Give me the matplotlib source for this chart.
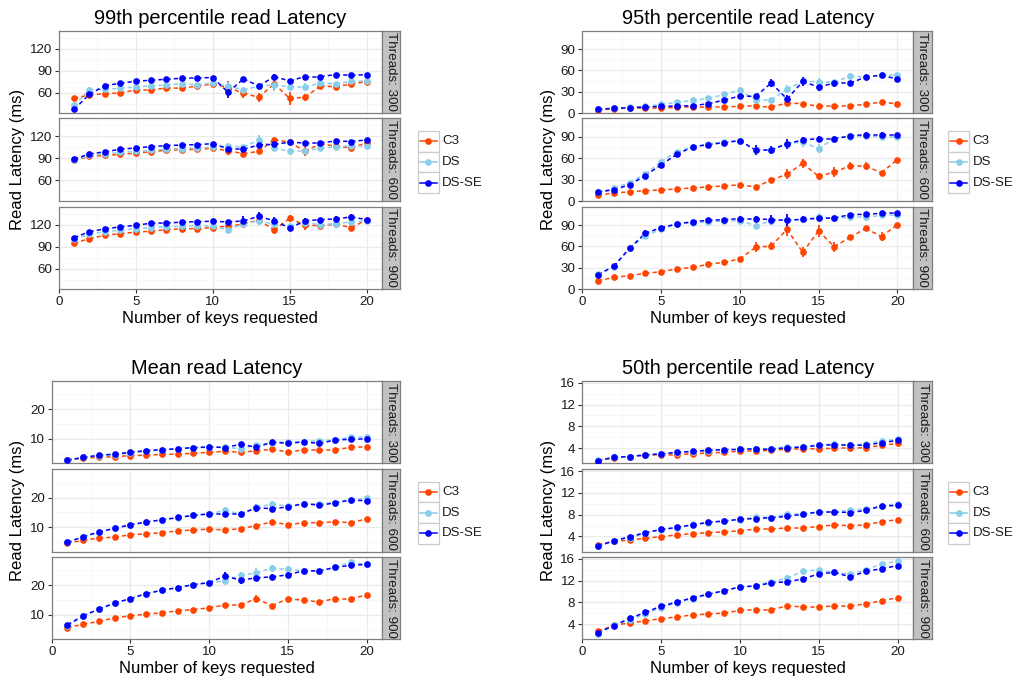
import matplotlib
matplotlib.use("Agg")
import matplotlib.pyplot as plt
from matplotlib.patches import Rectangle
from matplotlib.lines import Line2D
from matplotlib.collections import LineCollection

plt.rcParams['font.family'] = ['Liberation Sans', 'DejaVu Sans']

# figure size in pixels
W, H = 1018, 681

keys = list(range(1, 21))
threads = ['300', '600', '900']
series_names = ['C3', 'DS', 'DS-SE']
colors = {'C3': '#FF4500', 'DS': '#87CEEB', 'DS-SE': '#0000FF'}

# ---- 99th percentile ----
p99_c3_300 = [52.2, 56.8, 58.6, 59.5, 63.7, 63.7, 66.4, 66.0, 69.2, 71.5, 67.3, 59.0, 53.6, 72.0, 52.0, 53.6, 69.0, 68.0, 72.0, 75.0]
p99_c3_300_err = [2, 2, 2, 2, 2, 2, 2, 2, 2, 2, 8, 7, 6, 10, 9, 5, 3, 3, 4, 5]
p99_ds_300 = [42.6, 63.7, 64.6, 66.0, 67.8, 69.2, 70.5, 72.0, 71.0, 72.8, 69.0, 63.7, 69.0, 70.5, 68.2, 68.2, 72.8, 72.0, 75.6, 76.0]
p99_ds_300_err = [2, 4, 2, 2, 2, 2, 2, 2, 2, 2, 5, 3, 4, 8, 3, 5, 3, 3, 4, 3]
p99_dsse_300 = [37.1, 57.7, 69.6, 72.8, 75.6, 77.0, 78.3, 79.7, 80.2, 80.6, 60.5, 78.8, 69.2, 82.0, 76.0, 82.0, 82.0, 84.7, 83.8, 84.7]
p99_dsse_300_err = [1.5, 1.5, 1.5, 1.5, 1.5, 1.5, 1.5, 1.5, 1.5, 1.5, 8, 3, 4, 4, 3, 1.5, 1.5, 1.5, 2, 1.5]
p99_c3_600 = [87.3, 92.7, 94.0, 95.5, 97.3, 99.0, 101.0, 102.0, 102.4, 103.7, 100.5, 96.4, 99.6, 115.6, 112.0, 99.6, 110.0, 106.5, 104.6, 111.0]
p99_c3_600_err = [1.5, 1.5, 1.5, 1.5, 1.5, 1.5, 1.5, 1.5, 1.5, 1.5, 6, 5, 2, 4, 3, 6, 2, 2, 2, 2]
p99_ds_600 = [87.3, 94.0, 96.0, 98.2, 99.6, 101.0, 102.8, 103.3, 104.2, 105.0, 106.5, 105.6, 114.7, 104.2, 99.6, 99.6, 104.2, 105.6, 107.4, 106.5]
p99_ds_600_err = [2, 2, 2, 2, 2, 2, 2, 2, 2, 2, 4, 3, 7, 4, 3, 5, 3, 3, 3, 3]
p99_dsse_600 = [89.0, 96.0, 99.0, 102.4, 104.2, 106.0, 107.4, 108.3, 108.8, 110.0, 103.3, 102.4, 108.3, 109.2, 112.0, 111.0, 111.0, 113.8, 113.0, 115.2]
p99_dsse_600_err = [1.5, 1.5, 1.5, 1.5, 1.5, 1.5, 1.5, 1.5, 1.5, 1.5, 4, 3, 3, 3, 3, 3, 2, 2, 2, 2]
p99_c3_900 = [94.8, 101.2, 105.8, 108.1, 110.0, 111.3, 113.6, 114.5, 115.0, 116.3, 118.2, 121.0, 126.9, 112.7, 129.2, 119.5, 119.0, 121.0, 116.3, 126.9]
p99_c3_900_err = [1.5, 1.5, 1.5, 1.5, 1.5, 1.5, 1.5, 1.5, 1.5, 1.5, 2, 4, 5, 5, 5, 7, 3, 3, 5, 2]
p99_ds_900 = [100.3, 107.2, 110.8, 112.7, 115.0, 116.3, 117.3, 118.2, 119.0, 119.0, 112.7, 121.8, 125.5, 121.0, 118.2, 123.2, 120.0, 121.8, 124.1, 125.5]
p99_ds_900_err = [2, 2, 2, 2, 2, 2, 2, 2, 2, 2, 4, 3, 6, 3, 3, 5, 3, 3, 3, 2]
p99_dsse_900 = [102.6, 110.8, 114.5, 117.3, 119.5, 122.3, 122.7, 123.7, 124.6, 125.0, 124.1, 125.5, 131.9, 125.5, 115.9, 125.5, 127.3, 128.2, 131.0, 127.3]
p99_dsse_900_err = [1.5, 1.5, 1.5, 1.5, 1.5, 1.5, 1.5, 1.5, 1.5, 1.5, 2, 7, 6, 6, 3, 4, 2, 4, 4, 1.5]

# ---- 95th percentile ----
p95_c3_300 = [3.8, 6.0, 7.0, 7.0, 7.0, 8.0, 8.0, 8.4, 8.4, 9.4, 9.4, 8.4, 14.0, 13.1, 9.4, 9.4, 10.3, 12.2, 15.5, 12.7]
p95_c3_300_err = [1, 1, 1, 1, 1, 1, 1, 1, 1, 1, 1, 1, 2, 2, 1, 1, 1, 1, 2, 1]
p95_ds_300 = [5.6, 6.6, 8.0, 9.4, 12.2, 15.0, 17.8, 20.6, 26.3, 31.9, 18.8, 18.8, 33.8, 44.5, 44.0, 43.0, 52.0, 50.6, 53.4, 53.4]
p95_ds_300_err = [1, 1, 1, 1, 1.5, 1.5, 1.5, 1.5, 2, 2, 4, 3, 5, 6, 6, 4, 4, 3, 3, 3]
p95_dsse_300 = [5.2, 6.6, 7.5, 8.4, 9.4, 9.8, 10.3, 13.1, 18.3, 23.9, 23.4, 42.2, 19.7, 44.5, 36.6, 42.2, 42.2, 50.6, 53.4, 47.8]
p95_dsse_300_err = [1, 1, 1, 1, 1, 1, 1, 1, 1.5, 2, 4, 6, 5, 6, 6, 5, 2, 3, 2, 2]
p95_c3_600 = [8.0, 11.3, 12.7, 14.5, 15.5, 16.9, 18.3, 19.7, 21.1, 22.5, 19.7, 29.1, 37.5, 52.5, 34.7, 40.3, 49.2, 48.8, 39.4, 57.7]
p95_c3_600_err = [1, 1, 1, 1, 1, 1, 1, 1, 1, 1, 1.5, 4, 7, 6, 5, 7, 5, 6, 2, 3]
p95_ds_600 = [12.2, 17.8, 25.8, 37.5, 54.9, 68.9, 75.9, 79.7, 82.5, 84.4, 70.8, 71.3, 80.2, 82.5, 73.1, 87.2, 90.0, 90.9, 90.0, 90.0]
p95_ds_600_err = [2, 2, 2, 2, 2, 3, 3, 3, 3, 3, 6, 4, 6, 7, 6, 4, 4, 5, 3, 4]
p95_dsse_600 = [12.2, 15.9, 22.5, 35.6, 50.6, 65.2, 75.5, 78.8, 81.6, 84.4, 71.3, 71.3, 80.2, 85.3, 87.2, 87.2, 90.9, 92.8, 92.8, 92.8]
p95_dsse_600_err = [1.5, 1.5, 1.5, 1.5, 1.5, 2, 3, 2, 3, 2, 7, 5, 7, 4, 3, 4, 2, 3, 3, 2]
p95_c3_900 = [11.7, 16.4, 18.8, 22.0, 24.4, 28.2, 30.5, 34.8, 37.6, 42.3, 58.7, 60.6, 84.1, 51.7, 81.8, 59.7, 72.8, 85.5, 73.8, 90.7]
p95_c3_900_err = [1, 1, 1, 1, 1, 1, 1, 1, 1, 1.5, 7, 5, 9, 7, 8, 7, 4, 4, 6, 3]
p95_ds_900 = [21.1, 31.5, 57.8, 74.7, 84.1, 91.6, 93.5, 94.9, 95.9, 96.3, 89.3, 96.3, 97.3, 98.2, 101.0, 99.6, 101.0, 101.0, 103.9, 103.9]
p95_ds_900_err = [2, 2, 2, 4, 4, 4, 4, 4, 4, 4, 4, 4, 6, 4, 6, 4, 5, 5, 4, 3]
p95_dsse_900 = [20.2, 32.0, 57.3, 78.5, 86.5, 91.6, 94.9, 96.8, 97.7, 99.2, 99.2, 97.7, 96.8, 98.2, 99.6, 100.1, 104.8, 105.3, 106.7, 106.7]
p95_dsse_900_err = [2, 2, 2, 4, 3, 3, 3, 3, 3, 3, 4, 7, 9, 4, 3, 3, 3, 3, 3, 2]

# ---- mean ----
mean_c3_300 = [3.0, 3.5, 3.8, 4.0, 4.4, 4.5, 4.8, 4.9, 5.2, 5.5, 5.8, 5.5, 6.0, 6.5, 5.6, 6.3, 6.3, 6.3, 7.2, 7.2]
mean_c3_300_err = [0.3, 0.3, 0.3, 0.3, 0.3, 0.3, 0.3, 0.3, 0.3, 0.3, 0.3, 0.3, 0.4, 0.4, 0.3, 0.3, 0.3, 0.3, 0.3, 0.3]
mean_ds_300 = [2.9, 3.8, 4.3, 4.7, 5.2, 5.8, 6.3, 6.7, 7.0, 7.2, 7.2, 6.7, 8.0, 8.8, 9.0, 9.1, 9.4, 9.7, 10.6, 10.6]
mean_ds_300_err = [0.3, 0.3, 0.3, 0.3, 0.3, 0.3, 0.3, 0.3, 0.3, 0.3, 0.4, 0.5, 0.5, 0.4, 0.4, 0.3, 0.4, 0.3, 0.4, 0.4]
mean_dsse_300 = [2.8, 3.8, 4.5, 4.9, 5.5, 6.1, 6.4, 6.7, 7.1, 7.3, 7.1, 8.2, 7.2, 8.9, 8.5, 9.0, 8.5, 9.6, 9.9, 9.9]
mean_dsse_300_err = [0.3, 0.3, 0.3, 0.3, 0.3, 0.3, 0.3, 0.3, 0.3, 0.3, 0.4, 0.7, 0.6, 0.4, 0.3, 0.3, 0.3, 0.3, 0.3, 0.3]
mean_c3_600 = [4.7, 5.6, 6.4, 6.7, 7.5, 7.8, 8.2, 8.8, 9.1, 9.4, 9.1, 9.5, 10.6, 11.8, 10.9, 11.5, 11.6, 11.8, 11.6, 12.8]
mean_c3_600_err = [0.3, 0.3, 0.3, 0.3, 0.3, 0.3, 0.3, 0.3, 0.3, 0.3, 0.3, 0.3, 0.4, 0.4, 0.4, 0.4, 0.3, 0.3, 0.3, 0.4]
mean_ds_600 = [4.9, 6.8, 8.3, 9.7, 10.8, 11.8, 12.5, 13.2, 14.1, 14.5, 15.7, 14.5, 16.8, 17.7, 17.2, 17.7, 18.0, 18.3, 19.3, 19.7]
mean_ds_600_err = [0.4, 0.4, 0.4, 0.4, 0.4, 0.4, 0.4, 0.4, 0.4, 0.4, 1.0, 0.5, 0.8, 1.0, 0.7, 0.6, 0.5, 0.5, 0.5, 0.6]
mean_dsse_600 = [4.9, 6.9, 8.4, 9.7, 10.8, 11.8, 12.5, 13.3, 14.0, 14.5, 14.5, 14.5, 16.5, 16.3, 16.8, 18.0, 17.4, 18.2, 19.2, 18.9]
mean_dsse_600_err = [0.4, 0.4, 0.4, 0.4, 0.4, 0.4, 0.4, 0.4, 0.4, 0.4, 0.8, 0.5, 1.3, 0.6, 0.7, 0.9, 0.5, 0.4, 0.4, 0.5]
mean_c3_900 = [5.7, 6.9, 7.8, 9.0, 9.7, 10.3, 10.7, 11.4, 11.8, 12.4, 13.3, 13.4, 15.5, 13.1, 15.5, 14.9, 14.4, 15.5, 15.5, 16.7]
mean_c3_900_err = [0.4, 0.4, 0.4, 0.4, 0.4, 0.4, 0.4, 0.4, 0.4, 0.4, 0.4, 0.4, 1.2, 0.5, 0.5, 0.5, 0.4, 0.4, 0.4, 0.4]
mean_ds_900 = [6.4, 9.5, 11.9, 14.0, 15.5, 17.0, 18.3, 19.2, 20.2, 20.8, 21.5, 23.3, 24.2, 25.7, 25.3, 24.9, 24.9, 26.0, 27.8, 27.0]
mean_ds_900_err = [0.4, 0.4, 0.4, 0.4, 0.4, 0.4, 0.4, 0.4, 0.4, 0.4, 1.0, 1.0, 1.5, 1.0, 1.2, 0.6, 0.6, 0.6, 0.8, 0.5]
mean_dsse_900 = [6.7, 9.7, 12.0, 14.0, 15.5, 17.2, 18.3, 19.2, 20.2, 20.9, 23.1, 21.7, 22.5, 22.8, 23.5, 24.9, 24.8, 26.0, 26.7, 27.0]
mean_dsse_900_err = [0.4, 0.4, 0.4, 0.4, 0.4, 0.4, 0.4, 0.4, 0.4, 0.4, 1.2, 1.3, 1.1, 1.0, 0.8, 1.0, 0.8, 0.8, 0.5, 0.5]

# ---- 50th percentile ----
p50_c3_300 = [1.7, 2.2, 2.4, 2.65, 2.65, 2.8, 2.95, 3.1, 3.2, 3.45, 3.45, 3.6, 3.8, 3.8, 3.9, 3.95, 3.95, 4.1, 4.5, 4.85]
p50_c3_300_err = [0.1, 0.1, 0.1, 0.1, 0.1, 0.1, 0.1, 0.1, 0.1, 0.1, 0.1, 0.1, 0.15, 0.15, 0.15, 0.15, 0.15, 0.15, 0.15, 0.15]
p50_ds_300 = [1.8, 2.3, 2.4, 2.65, 2.9, 3.15, 3.3, 3.5, 3.7, 3.8, 3.8, 3.9, 4.25, 4.25, 4.6, 4.75, 4.55, 4.75, 5.35, 5.6]
p50_ds_300_err = [0.1, 0.1, 0.1, 0.1, 0.1, 0.1, 0.1, 0.1, 0.1, 0.1, 0.15, 0.15, 0.2, 0.15, 0.2, 0.2, 0.15, 0.15, 0.2, 0.2]
p50_dsse_300 = [1.7, 2.3, 2.45, 2.75, 2.95, 3.2, 3.4, 3.6, 3.7, 3.75, 3.75, 3.8, 4.05, 4.2, 4.5, 4.5, 4.5, 4.55, 5.0, 5.4]
p50_dsse_300_err = [0.1, 0.1, 0.1, 0.1, 0.1, 0.1, 0.1, 0.1, 0.1, 0.1, 0.15, 0.15, 0.15, 0.15, 0.15, 0.15, 0.15, 0.15, 0.2, 0.2]
p50_c3_600 = [2.5, 3.1, 3.3, 3.7, 3.95, 4.3, 4.5, 4.7, 4.85, 5.05, 5.35, 5.35, 5.6, 5.6, 5.8, 6.15, 5.95, 6.15, 6.7, 7.1]
p50_c3_600_err = [0.1, 0.1, 0.1, 0.1, 0.1, 0.1, 0.1, 0.1, 0.1, 0.1, 0.15, 0.15, 0.15, 0.15, 0.15, 0.15, 0.15, 0.15, 0.15, 0.15]
p50_ds_600 = [2.2, 3.15, 3.75, 4.6, 5.25, 5.6, 6.2, 6.5, 6.8, 7.1, 7.6, 7.45, 8.15, 8.15, 8.55, 8.55, 8.8, 9.1, 9.6, 10.05]
p50_ds_600_err = [0.1, 0.1, 0.1, 0.15, 0.15, 0.15, 0.15, 0.15, 0.15, 0.15, 0.25, 0.2, 0.3, 0.2, 0.2, 0.2, 0.2, 0.2, 0.2, 0.2]
p50_dsse_600 = [2.25, 3.2, 3.95, 4.7, 5.3, 5.65, 6.15, 6.6, 6.85, 7.15, 7.3, 7.45, 7.7, 8.1, 8.5, 8.5, 8.4, 8.8, 9.6, 9.7]
p50_dsse_600_err = [0.1, 0.1, 0.1, 0.15, 0.15, 0.15, 0.15, 0.15, 0.15, 0.15, 0.2, 0.2, 0.25, 0.2, 0.2, 0.2, 0.2, 0.2, 0.2, 0.2]
p50_c3_900 = [2.65, 3.8, 4.2, 4.6, 5.0, 5.3, 5.7, 5.85, 6.05, 6.5, 6.65, 6.65, 7.35, 7.15, 7.15, 7.35, 7.35, 7.7, 8.3, 8.85]
p50_c3_900_err = [0.1, 0.1, 0.1, 0.15, 0.15, 0.15, 0.15, 0.15, 0.15, 0.15, 0.15, 0.15, 0.2, 0.15, 0.15, 0.15, 0.15, 0.15, 0.2, 0.2]
p50_ds_900 = [2.25, 3.9, 4.75, 5.85, 7.05, 7.9, 8.7, 9.45, 10.1, 10.8, 11.1, 11.8, 12.45, 13.75, 13.95, 13.5, 13.2, 13.95, 15.1, 15.55]
p50_ds_900_err = [0.15, 0.15, 0.2, 0.2, 0.2, 0.2, 0.2, 0.2, 0.2, 0.2, 0.3, 0.3, 0.5, 0.4, 0.3, 0.3, 0.3, 0.3, 0.3, 0.3]
p50_dsse_900 = [2.45, 3.7, 5.05, 6.15, 7.3, 8.05, 8.85, 9.5, 10.15, 10.85, 11.0, 11.6, 11.8, 12.3, 13.25, 13.5, 12.7, 13.7, 14.2, 14.75]
p50_dsse_900_err = [0.15, 0.15, 0.2, 0.3, 0.2, 0.2, 0.2, 0.2, 0.2, 0.2, 0.5, 0.4, 0.3, 0.3, 0.3, 0.3, 0.3, 0.3, 0.3, 0.3]


def px_axes(fig, x0, y0, x1, y1):
    # axes placed by pixel box (top-left origin)
    return fig.add_axes([x0 / W, 1 - y1 / H, (x1 - x0) / W, (y1 - y0) / H])


def draw_chart(fig, title, vals, errs, box, rows, ylim, yticks, yminor, ylab_x):
    left, right, strip_right = box
    for i, (y0, y1) in enumerate(rows):
        ax = px_axes(fig, left, y0, right, y1)
        ax.set_xlim(0, 21)
        ax.set_ylim(*ylim)
        ax.set_xticks([0, 5, 10, 15, 20])
        ax.set_xticks([2.5, 7.5, 12.5, 17.5], minor=True)
        ax.set_yticks(yticks)
        ax.set_yticks(yminor, minor=True)
        ax.grid(which='major', color='#EBEBEB', lw=1.0)
        ax.grid(which='minor', color='#F7F7F7', lw=0.7)
        ax.set_axisbelow(True)
        for sp in ax.spines.values():
            sp.set_color('#7F7F7F')
            sp.set_linewidth(0.9)
        ax.tick_params(which='minor', length=0)
        ax.tick_params(which='major', length=3, width=0.8, color='#333333',
                       labelsize=9.6, labelcolor='#1A1A1A', pad=2)
        if i < len(rows) - 1:
            ax.tick_params(axis='x', which='major', length=0, labelbottom=False)
        for name in series_names:
            y = vals[name][i]
            e = errs[name][i]
            # dashes restart at every point, one segment per pair of keys
            segs = [[(keys[k], y[k]), (keys[k + 1], y[k + 1])] for k in range(len(keys) - 1)]
            ax.add_collection(LineCollection(segs, colors=colors[name], linewidths=1.1,
                                             linestyles=[(0, (2.8, 2.0))], zorder=2))
            ax.errorbar(keys, y, yerr=e, fmt='o', color=colors[name], ms=3.8,
                        elinewidth=1.3, capsize=0, zorder=3)
        # facet strip on the right
        sx = px_axes(fig, right, y0, strip_right, y1)
        sx.set_facecolor('#C2C2C2')
        sx.set_xticks([])
        sx.set_yticks([])
        for sp in sx.spines.values():
            sp.set_color('#7F7F7F')
            sp.set_linewidth(0.9)
        sx.text(0.5, 0.5, 'Threads: ' + threads[i], rotation=-90, ha='center', va='center',
                fontsize=9.6, color='#1A1A1A', transform=sx.transAxes)

    cx = (left + right) / 2
    top = rows[0][0]
    bottom = rows[-1][1]
    fig.text(cx / W, 1 - (top - 12) / H, title, ha='center', va='center', fontsize=14.4)
    fig.text(cx / W, 1 - (bottom + 29) / H, 'Number of keys requested', ha='center', va='center', fontsize=12)
    fig.text(ylab_x / W, 1 - ((top + bottom) / 2) / H, 'Read Latency (ms)', rotation=90,
             ha='center', va='center', fontsize=12)


def draw_legend(ov, x0, y0):
    kw, kh = 21, 20.7
    for j, name in enumerate(series_names):
        ty = y0 + j * kh
        ov.add_patch(Rectangle((x0, ty), kw, kh, facecolor='white', edgecolor='#CCCCCC', lw=0.9))
        cy = ty + kh / 2
        ov.add_line(Line2D([x0 + 2, x0 + kw - 2], [cy, cy], color=colors[name], lw=1.1))
        ov.plot([x0 + kw / 2], [cy], 'o', color=colors[name], ms=3.8)
        ov.text(x0 + kw + 3, cy, name, ha='left', va='center', fontsize=9.6, color='#1A1A1A')


fig = plt.figure(figsize=(W / 100, H / 100), dpi=100)
fig.patch.set_facecolor('white')

top_rows = [(30.7, 113), (118, 201), (206.7, 289)]
bot_rows = [(380.7, 463.3), (469, 551.7), (556.7, 639.3)]

p99_vals = {'C3': [p99_c3_300, p99_c3_600, p99_c3_900],
            'DS': [p99_ds_300, p99_ds_600, p99_ds_900],
            'DS-SE': [p99_dsse_300, p99_dsse_600, p99_dsse_900]}
p99_errs = {'C3': [p99_c3_300_err, p99_c3_600_err, p99_c3_900_err],
            'DS': [p99_ds_300_err, p99_ds_600_err, p99_ds_900_err],
            'DS-SE': [p99_dsse_300_err, p99_dsse_600_err, p99_dsse_900_err]}
p95_vals = {'C3': [p95_c3_300, p95_c3_600, p95_c3_900],
            'DS': [p95_ds_300, p95_ds_600, p95_ds_900],
            'DS-SE': [p95_dsse_300, p95_dsse_600, p95_dsse_900]}
p95_errs = {'C3': [p95_c3_300_err, p95_c3_600_err, p95_c3_900_err],
            'DS': [p95_ds_300_err, p95_ds_600_err, p95_ds_900_err],
            'DS-SE': [p95_dsse_300_err, p95_dsse_600_err, p95_dsse_900_err]}
mean_vals = {'C3': [mean_c3_300, mean_c3_600, mean_c3_900],
             'DS': [mean_ds_300, mean_ds_600, mean_ds_900],
             'DS-SE': [mean_dsse_300, mean_dsse_600, mean_dsse_900]}
mean_errs = {'C3': [mean_c3_300_err, mean_c3_600_err, mean_c3_900_err],
             'DS': [mean_ds_300_err, mean_ds_600_err, mean_ds_900_err],
             'DS-SE': [mean_dsse_300_err, mean_dsse_600_err, mean_dsse_900_err]}
p50_vals = {'C3': [p50_c3_300, p50_c3_600, p50_c3_900],
            'DS': [p50_ds_300, p50_ds_600, p50_ds_900],
            'DS-SE': [p50_dsse_300, p50_dsse_600, p50_dsse_900]}
p50_errs = {'C3': [p50_c3_300_err, p50_c3_600_err, p50_c3_900_err],
            'DS': [p50_ds_300_err, p50_ds_600_err, p50_ds_900_err],
            'DS-SE': [p50_dsse_300_err, p50_dsse_600_err, p50_dsse_900_err]}

draw_chart(fig, '99th percentile read Latency', p99_vals, p99_errs, (58.7, 382, 400), top_rows,
           (32, 145), [60, 90, 120], [45, 75, 105, 135], 18)
draw_chart(fig, '95th percentile read Latency', p95_vals, p95_errs, (582.3, 913, 931.7), top_rows,
           (0, 116), [0, 30, 60, 90], [15, 45, 75, 105], 549)
draw_chart(fig, 'Mean read Latency', mean_vals, mean_errs, (51.7, 382.3, 400), bot_rows,
           (1.8, 29.6), [10, 20], [5, 15, 25], 18)
draw_chart(fig, '50th percentile read Latency', p50_vals, p50_errs, (582.3, 913.3, 931.7), bot_rows,
           (1.2, 16.4), [4, 8, 12, 16], [2, 6, 10, 14], 549)

# overlay in pixel coordinates for the legends
ov = fig.add_axes([0, 0, 1, 1])
ov.set_xlim(0, W)
ov.set_ylim(H, 0)
ov.axis('off')
ov.patch.set_alpha(0)
draw_legend(ov, 418, 131)
draw_legend(ov, 948.5, 131)
draw_legend(ov, 418, 481.7)
draw_legend(ov, 948.5, 481.7)

fig.savefig('out.png', dpi=100)
